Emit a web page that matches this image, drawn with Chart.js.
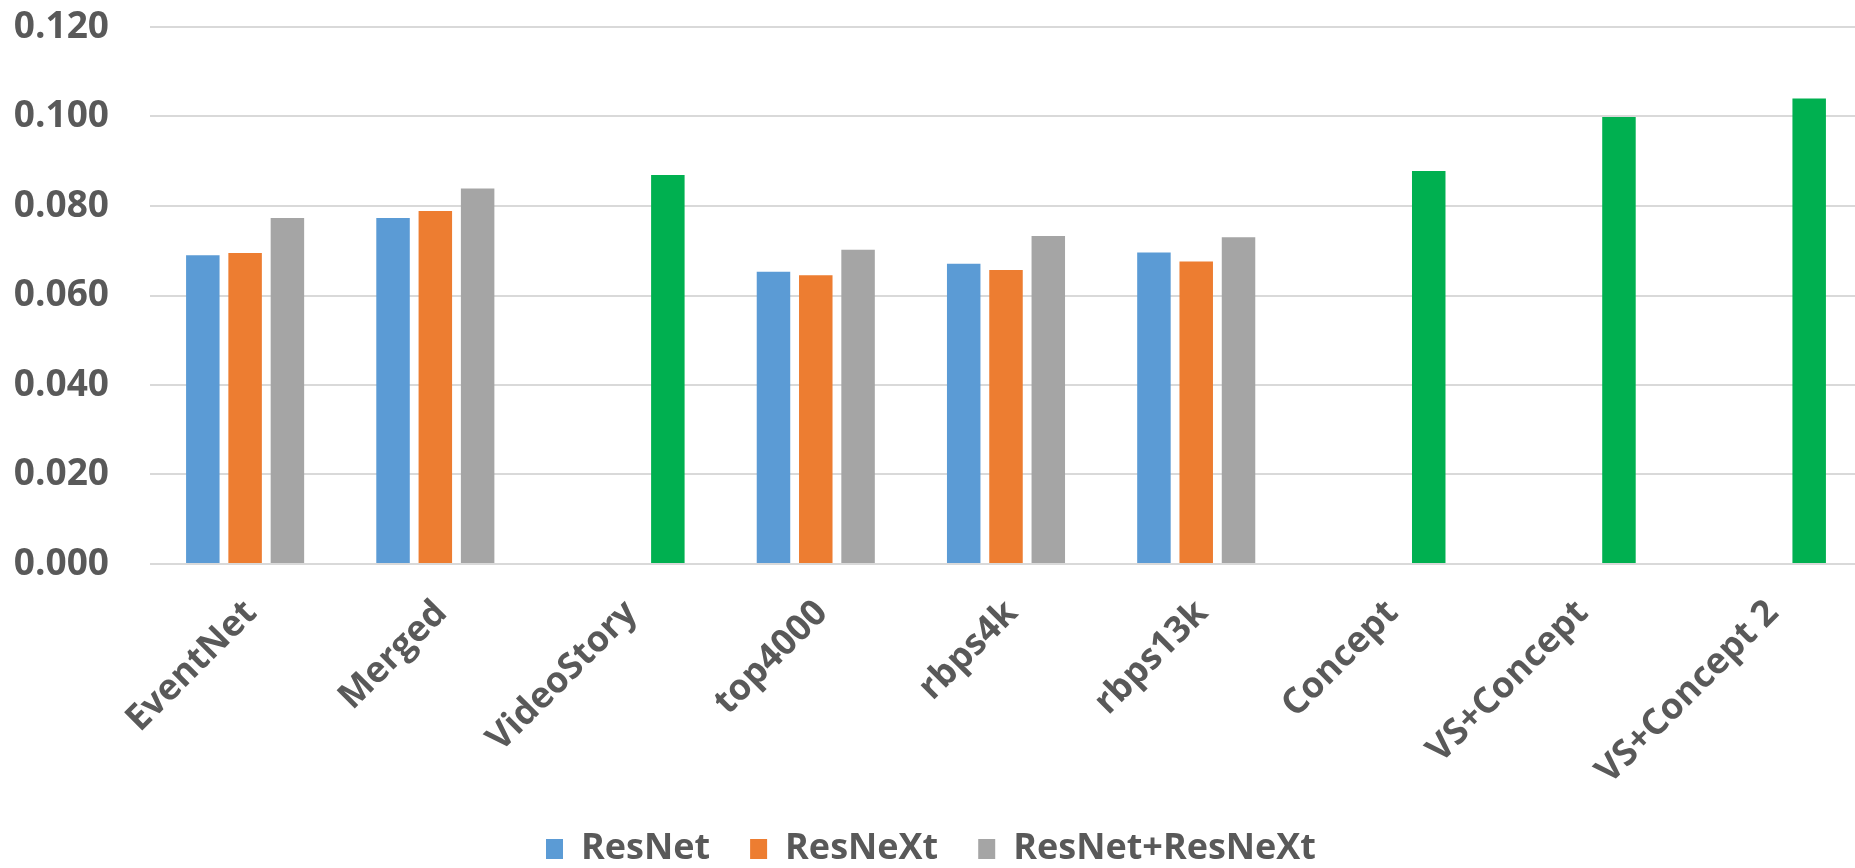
<!DOCTYPE html>
<html>
<head>
<meta charset="utf-8">
<script src="https://cdn.jsdelivr.net/npm/chart.js@4.4.1/dist/chart.umd.min.js"></script>
<style>
	html, body { margin: 0; padding: 0; background: #fff; overflow: hidden; }
	#wrap { width: 1862px; height: 877px; position: relative; }
</style>
</head>
<body>
<div id="wrap"><canvas id="chart"></canvas></div>
<script>
// Categories along the x axis
const categories = ["EventNet", "Merged", "VideoStory", "top4000", "rbps4k", "rbps13k", "Concept", "VS+Concept", "VS+Concept 2"];

// Series values
const resNet = [0.0690, 0.0773, null, 0.0653, 0.0671, 0.0696, null, null, null];
const resNeXt = [0.0695, 0.0789, null, 0.0645, 0.0657, 0.0676, null, null, null];
const combined = [0.0773, 0.0839, 0.0869, 0.0702, 0.0733, 0.0730, 0.0878, 0.0999, 0.1040];

// Categories whose combined bar is drawn in green
const greenCategories = ["VideoStory", "Concept", "VS+Concept", "VS+Concept 2"];

// Y axis ticks
const yTicks = [0, 0.02, 0.04, 0.06, 0.08, 0.10, 0.12];

const textColor = "#595959";
const gridColor = "#d9d9d9";
const font = { family: "'Open Sans', sans-serif", size: 36, weight: "bold" };

new Chart(document.getElementById("chart"), {
	type: "bar",
	data: {
		labels: categories,
		datasets: [
			{ label: "ResNet", data: resNet, backgroundColor: "#5b9bd5" },
			{ label: "ResNeXt", data: resNeXt, backgroundColor: "#ed7d31" },
			{
				label: "ResNet+ResNeXt",
				data: combined,
				backgroundColor: (ctx) => {
					if (ctx.type === "data" && greenCategories.includes(categories[ctx.dataIndex])) {
						return "#00b050";
					}
					return "#a5a5a5";
				}
			}
		]
	},
	options: {
		responsive: true,
		maintainAspectRatio: false,
		animation: false,
		categoryPercentage: 0.667,
		barPercentage: 0.792,
		layout: { padding: { top: 27, right: 0, left: 0, bottom: 0 } },
		plugins: {
			tooltip: { enabled: false },
			legend: {
				position: "bottom",
				labels: {
					color: textColor,
					font: font,
					boxWidth: 17,
					boxHeight: 20,
					padding: 40
				}
			}
		},
		scales: {
			x: {
				grid: { display: false },
				border: { display: false },
				afterFit: (scale) => {
					scale.height = 227;
				},
				ticks: {
					color: textColor,
					font: font,
					autoSkip: false,
					minRotation: 45,
					maxRotation: 45,
					padding: 20,
					labelOffset: 6
				}
			},
			y: {
				min: 0,
				max: 0.12,
				afterBuildTicks: (scale) => {
					scale.ticks = yTicks.map((v) => ({ value: v }));
				},
				afterFit: (scale) => {
					scale.width = 150;
				},
				// invisible tick marks keep the labels away from the plot
				grid: { color: gridColor, lineWidth: 2, drawTicks: true, tickLength: 41, tickColor: "rgba(0,0,0,0)" },
				border: { display: false },
				ticks: {
					color: textColor,
					font: { ...font, size: 37 },
					padding: 0,
					callback: (v) => Number(v).toFixed(3)
				}
			}
		}
	}
});
</script>
</body>
</html>
